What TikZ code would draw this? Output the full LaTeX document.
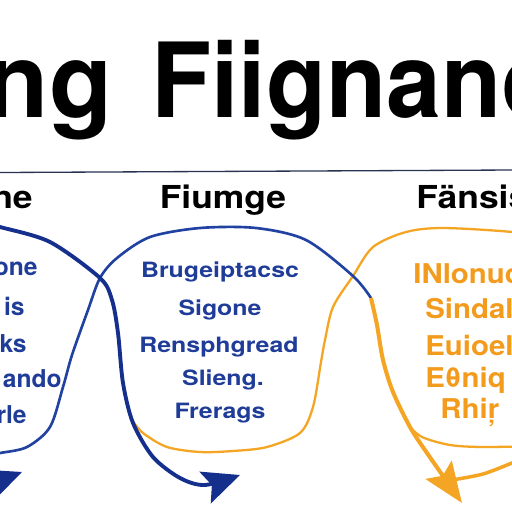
\documentclass[tikz,border=0pt]{standalone}
\usepackage{fontspec}
\setmainfont{TeX Gyre Heros}
\usepackage{tikz}
\usetikzlibrary{arrows.meta}
\usepackage{xcolor}
\definecolor{loopblue}{HTML}{2142A0}
\definecolor{strandblue}{HTML}{15308C}
\definecolor{txtblue}{HTML}{1E3C98}
\definecolor{looporange}{HTML}{F5A524}
\definecolor{txtorange}{HTML}{F39B1C}
\definecolor{rulenavy}{HTML}{2B3352}

\begin{document}
\begin{tikzpicture}[x=0.02cm,y=-0.02cm,
    bigtitle/.style={font=\bfseries\fontsize{59}{59}\selectfont, inner sep=0pt},
    colhead/.style={font=\bfseries\fontsize{18}{18}\selectfont, inner sep=0pt, xscale=1.12},
    lefttxt/.style={font=\bfseries\fontsize{14}{14}\selectfont, text=txtblue, inner sep=0pt, anchor=base east},
    midtxt/.style={font=\bfseries\fontsize{12}{12}\selectfont, text=txtblue, inner sep=0pt, anchor=base, xscale=1.18},
    righttxt/.style={font=\bfseries\fontsize{15.5}{15.5}\selectfont, text=txtorange, inner sep=0pt, anchor=base west, xscale=1.08},
    blueloop/.style={draw=loopblue, line width=1.5pt},
    orangeloop/.style={draw=looporange, line width=1.3pt},
    bluestrand/.style={draw=strandblue, line width=2.2pt, -{Stealth[length=21pt,width=19pt,inset=4pt]}},
    orangestrand/.style={draw=looporange, line width=2.3pt, -{Stealth[length=23pt,width=18pt,inset=4pt]}}]

    \useasboundingbox (0,0) rectangle (512,512);
    \fill[white] (0,0) rectangle (512,512);
    \clip (0,0) rectangle (512,512);

    % title
    \node[bigtitle, anchor=base east] (ttlA) at (113,117) {ng};
    \node[bigtitle, anchor=base west, xscale=0.95] (ttlB) at (151,117) {Fiignano};

    % rule under the title
    \draw[rulenavy, line width=0.75pt] (0,172.5) -- (512,170);

    % column heads
    \node[colhead, anchor=base east] (headL) at (33,208) {ne};
    \node[colhead, anchor=base] (headM) at (223,208) {Fiumge};
    \node[colhead, anchor=base west] (headR) at (416,208) {Fänsis};

    % crossings
    \coordinate (xl) at (100,278);
    \coordinate (xr) at (353,276);

    % left column
    \node[lefttxt] (l1) at (38,275) {one};
    \node[lefttxt] (l2) at (25,315) {is};
    \node[lefttxt] (l3) at (27,352) {ks};
    \node[lefttxt] (l4) at (62,387) {ando};
    \node[lefttxt] (l5) at (27,423) {rle};

    % middle column
    \node[midtxt] (m1) at (220,277) {Brugeiptacsc};
    \node[midtxt] (m2) at (220,315) {Sigone};
    \node[midtxt] (m3) at (219,352) {Rensphgread};
    \node[midtxt] (m4) at (223,385) {Slieng.};
    \node[midtxt] (m5) at (220,418) {Frerags};

    % right column
    \node[righttxt] (r1) at (413,283) {INlonuc};
    \node[righttxt] (r2) at (425,318) {Sindal};
    \node[righttxt] (r3) at (425,355) {Euioeld};
    \node[righttxt] (r4) at (425,387) {Eθniq};
    \node[righttxt] (r5) at (440,418) {Rhiŗ};

    % orange loops
    \draw[orangeloop] plot[smooth] coordinates {(540,238) (512,232) (443,228) (406,232) (373,247) (xr) (333,307) (325,340) (321,362) (313,407) (300,433) (267,447) (233,451) (200,452) (167,447) (143,433) (132,420)};
    \draw[orangeloop] plot[smooth] coordinates {(408,425) (422,437) (450,445) (483,447) (540,446)};

    % blue loop over the top
    \draw[blueloop] plot[smooth] coordinates {(-20,456) (0,453) (27,447) (50,427) (63,387) (72,355) (88,310) (xl) (117,258) (150,237) (200,228) (256,228) (306,240) (xr) (371,298)};

    % strands with arrows
    \draw[bluestrand] plot[smooth] coordinates {(-20,222) (0,227) (50,242) (xl) (112,300) (118,333) (123,383) (133,423) (153,457) (180,478) (205,485) (240,475)};
    \draw[orangestrand] plot[smooth] coordinates {(371,298) (377,325) (383,360) (393,392) (410,427) (427,453) (462,503)};
    \draw[orangeloop, line width=2pt] plot[smooth] coordinates {(540,452) (512,463) (483,474) (452,480)};
    \draw[bluestrand] (-80,505) .. controls (-30,492) .. (22,472);
\end{tikzpicture}
\end{document}
